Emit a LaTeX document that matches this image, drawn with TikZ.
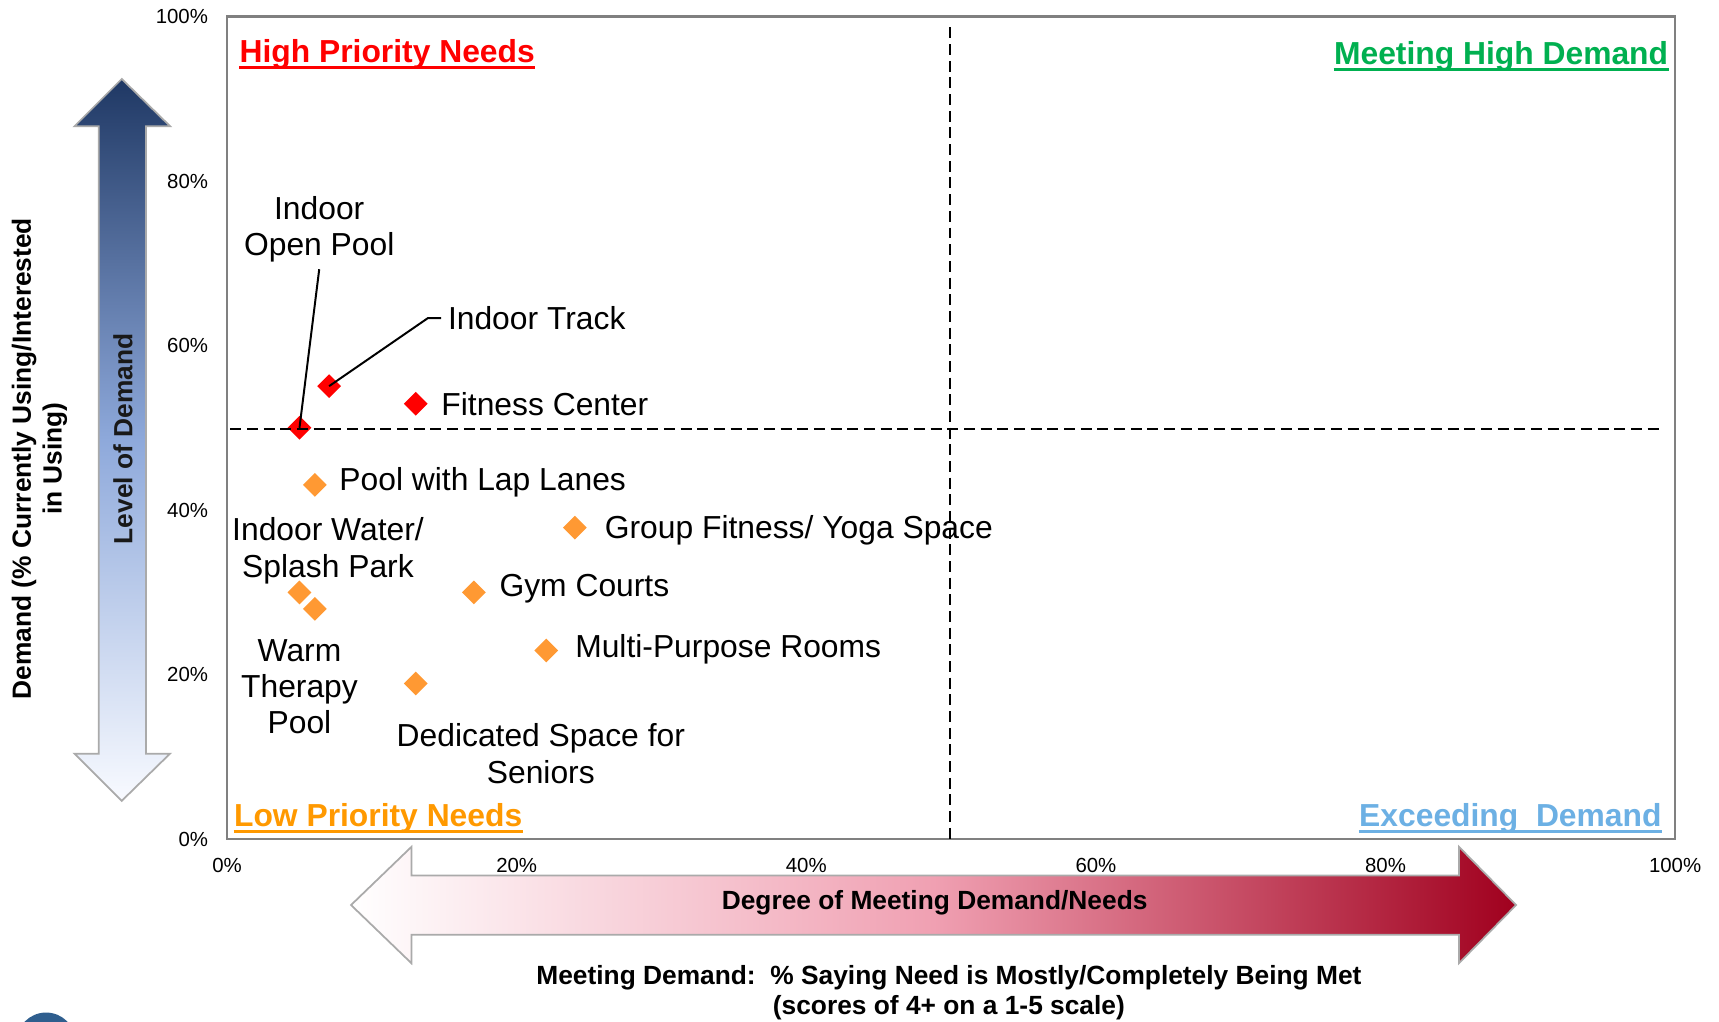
\documentclass[tikz,border=0pt]{standalone}
\usepackage{fontspec}
\setmainfont{Liberation Sans}
\usetikzlibrary{shapes.geometric}
\definecolor{hpred}{RGB}{255,0,0}
\definecolor{dorange}{RGB}{255,153,51}
\definecolor{lporange}{RGB}{255,153,0}
\definecolor{mgreen}{RGB}{0,176,80}
\definecolor{exblue}{RGB}{108,176,228}
\definecolor{framegray}{RGB}{128,128,128}
\definecolor{arrgray}{RGB}{170,170,170}
\definecolor{navy}{RGB}{31,56,100}
\definecolor{midblue}{RGB}{142,169,219}
\definecolor{paleblue}{RGB}{248,250,255}
\definecolor{darkred}{RGB}{160,0,30}
\definecolor{midpink}{RGB}{240,160,178}
\definecolor{logoblue}{RGB}{47,94,142}
\begin{document}
\begin{tikzpicture}[x=0.5pt,y=-0.5pt,
  dia/.style={diamond, minimum width=11pt, minimum height=11pt, inner sep=0pt},
  reddia/.style={dia, fill=hpred},
  oradia/.style={dia, fill=dorange},
  lab/.style={font=\fontsize{14.5}{16.5}\selectfont, inner sep=0pt, align=center},
  tick/.style={font=\fontsize{9.3}{11}\selectfont, inner sep=0pt},
  quad/.style={font=\fontsize{14.5}{16.5}\selectfont\bfseries, inner sep=0pt},
  uline/.style={line width=1.3pt},
  axt/.style={font=\fontsize{12}{14}\selectfont\bfseries, inner sep=0pt, align=center},
  leader/.style={black, line width=0.9pt},
  quadline/.style={black, line width=0.85pt, dash pattern=on 5pt off 2.6pt}]
\useasboundingbox (0,0) rectangle (1567,931);
\fill[white] (0,0) rectangle (1567,931);

% logo fragment
\fill[logoblue] (42,950) circle (27);

% vertical arrow
\shade[top color=navy, bottom color=paleblue, middle color=midblue]
  (111,72) -- (155,115) -- (133,115) -- (133,687) -- (155,687) -- (111,730)
  -- (68,687) -- (90,687) -- (90,115) -- (68,115) -- cycle;
\draw[arrgray, line width=0.8pt]
  (111,72) -- (155,115) -- (133,115) -- (133,687) -- (155,687) -- (111,730)
  -- (68,687) -- (90,687) -- (90,115) -- (68,115) -- cycle;
\node[axt, rotate=90, text=black!90] (lod) at (112,400) {Level of Demand};

% horizontal arrow
\shade[left color=white, right color=darkred, middle color=midpink]
  (320,825) -- (375,772) -- (375,798) -- (1330,798) -- (1330,772) -- (1382,825)
  -- (1330,878) -- (1330,852) -- (375,852) -- (375,878) -- cycle;
\draw[arrgray, line width=0.8pt]
  (320,825) -- (375,772) -- (375,798) -- (1330,798) -- (1330,772) -- (1382,825)
  -- (1330,878) -- (1330,852) -- (375,852) -- (375,878) -- cycle;
\node[axt] (dmd) at (852,823) {Degree of Meeting Demand/Needs};

% axis titles
\node[axt, rotate=90] (ytitle) at (36,418) {Demand (\% Currently Using/Interested\\in Using)};
\node[axt] (xtitle) at (865,905) {Meeting Demand:\ \ \% Saying Need is Mostly/Completely Being Met\\(scores of 4+ on a 1-5 scale)};

% frame
\draw[framegray, line width=1pt] (207,15) rectangle (1527,765);

% ticks
\node[tick, anchor=east] (y100) at (190,15) {100\%};
\node[tick, anchor=east] (y80) at (190,165) {80\%};
\node[tick, anchor=east] (y60) at (190,315) {60\%};
\node[tick, anchor=east] (y40) at (190,465) {40\%};
\node[tick, anchor=east] (y20) at (190,615) {20\%};
\node[tick, anchor=east] (y0) at (190,765) {0\%};
\node[tick] (x0) at (207,789) {0\%};
\node[tick] (x20) at (471,789) {20\%};
\node[tick] (x40) at (735,789) {40\%};
\node[tick] (x60) at (999,789) {60\%};
\node[tick] (x80) at (1263,789) {80\%};
\node[tick] (x100) at (1527,789) {100\%};

% quadrant titles
\node[quad, text=hpred, anchor=base west] (hp) at (218,57) {High Priority Needs};
\draw[hpred, uline] ([yshift=-2.3pt]hp.base west) -- ([yshift=-2.3pt]hp.base east);
\node[quad, text=mgreen, anchor=base east] (mh) at (1521,59) {Meeting High Demand};
\draw[mgreen, uline] ([yshift=-2.3pt]mh.base west) -- ([yshift=-2.3pt]mh.base east);
\node[quad, text=lporange, anchor=base west] (lp) at (213,753) {Low Priority Needs};
\draw[lporange, uline] ([yshift=-2.3pt]lp.base west) -- ([yshift=-2.3pt]lp.base east);
\node[quad, text=exblue, anchor=base east] (ex) at (1515,753) {Exceeding\ \ Demand};
\draw[exblue, uline] ([yshift=-2.3pt]ex.base west) -- ([yshift=-2.3pt]ex.base east);

% data points
\node[reddia] (dOpen) at (273,390) {};
\node[reddia] (dTrack) at (300,352) {};
\node[reddia] (dFit) at (379,368) {};
\node[oradia] (dLap) at (287,442) {};
\node[oradia] (dGroup) at (524,481) {};
\node[oradia] (dSplash) at (273,540) {};
\node[oradia] (dWarm) at (287,555) {};
\node[oradia] (dGym) at (432,540) {};
\node[oradia] (dMulti) at (498,593) {};
\node[oradia] (dSen) at (379,623) {};

% labels
\node[lab] (lOpen) at (291,209) {Indoor\\Open Pool};
\node[lab, anchor=west] (lTrack) at (408,290) {Indoor Track};
\node[lab, anchor=west] (lFit) at (402,368) {Fitness Center};
\node[lab, anchor=west] (lLap) at (309,440) {Pool with Lap Lanes};
\node[lab, anchor=west] (lGroup) at (551,483) {Group Fitness/ Yoga Space};
\node[lab] (lSplash) at (299,502) {Indoor Water/\\Splash Park};
\node[lab, anchor=west] (lGym) at (455,537) {Gym Courts};
\node[lab, anchor=west] (lMulti) at (524,592) {Multi-Purpose Rooms};
\node[lab] (lWarm) at (273,626) {Warm\\Therapy\\Pool};
\node[lab] (lSen) at (493,687) {Dedicated Space for\\Seniors};

% quadrant dividers
\draw[quadline] (866,25) -- (866,765);
\draw[quadline] (210,391) -- (1517,391);

% leader lines
\draw[leader] ([yshift=-3pt]lOpen.south) -- (dOpen.center);
\draw[leader] ([xshift=-3pt]lTrack.west) -- ++(-12,0) -- (dTrack.center);
\end{tikzpicture}
\end{document}
